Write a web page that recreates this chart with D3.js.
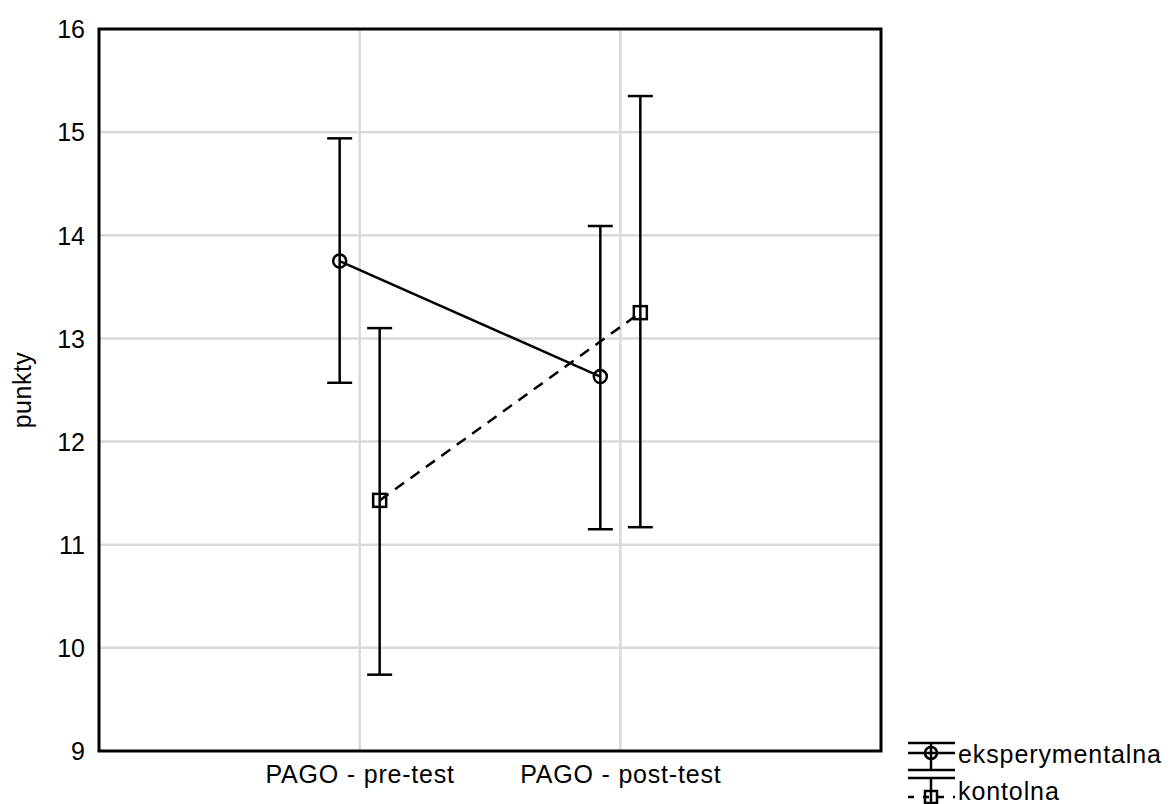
<!DOCTYPE html>
<html>
<head>
<meta charset="utf-8">
<script src="https://cdn.jsdelivr.net/npm/d3@7"></script>
<style>
  body { margin: 0; background: #fff; }
  text { font-family: "Liberation Sans", Arial, sans-serif; fill: #000; }
</style>
</head>
<body>
<svg id="chart" width="1173" height="804"></svg>
<script>
var categories = ["PAGO - pre-test", "PAGO - post-test"]
var seriesNames = ["eksperymentalna", "kontolna"]
// mean, lower, upper per category
var expMean = [13.75, 12.63]
var expLow = [12.57, 11.15]
var expHigh = [14.94, 14.09]
var konMean = [11.43, 13.25]
var konLow = [9.74, 11.17]
var konHigh = [13.10, 15.35]
var yTicks = [9, 10, 11, 12, 13, 14, 15, 16]

var dimensions = {
    width: 1173,
    height: 804,
    margin: { top: 29, bottom: 53, left: 99, right: 292 }
}

var svg = d3.select("#chart")

var xScale = d3.scalePoint()
    .domain(categories)
    .range([dimensions.margin.left, dimensions.width - dimensions.margin.right])
    .padding(1)

var yScale = d3.scaleLinear()
    .domain([9, 16])
    .range([dimensions.height - dimensions.margin.bottom, dimensions.margin.top])

var plotLeft = dimensions.margin.left
var plotRight = dimensions.width - dimensions.margin.right
var plotTop = dimensions.margin.top
var plotBottom = dimensions.height - dimensions.margin.bottom

var lw = 2.5

// grid
svg.append("g").selectAll("line.h")
    .data(yTicks.slice(1, -1))
    .enter().append("line")
    .attr("x1", plotLeft).attr("x2", plotRight)
    .attr("y1", d => yScale(d)).attr("y2", d => yScale(d))
    .attr("stroke", "#d9d9d9").attr("stroke-width", 2.5)

svg.append("g").selectAll("line.v")
    .data(categories)
    .enter().append("line")
    .attr("x1", d => xScale(d)).attr("x2", d => xScale(d))
    .attr("y1", plotTop).attr("y2", plotBottom)
    .attr("stroke", "#d9d9d9").attr("stroke-width", 2.5)

// axes (labels only)
var yAxisGen = d3.axisLeft(yScale).tickValues(yTicks).tickFormat(d3.format("d")).tickSize(0).tickPadding(14)
var yAxis = svg.append("g")
    .attr("transform", "translate(" + plotLeft + ",0)")
    .call(yAxisGen)
yAxis.select(".domain").remove()
yAxis.selectAll("text").style("font-size", "25px").attr("dy", "0.35em")

var xAxisGen = d3.axisBottom(xScale).tickSize(0).tickPadding(14)
var xAxis = svg.append("g")
    .attr("transform", "translate(0," + plotBottom + ")")
    .call(xAxisGen)
xAxis.select(".domain").remove()
xAxis.selectAll("text").style("font-size", "25px").style("letter-spacing", "0.8px")

svg.append("text")
    .attr("transform", "translate(31," + ((plotTop + plotBottom) / 2) + ") rotate(-90)")
    .attr("text-anchor", "middle")
    .style("font-size", "25px")
    .style("letter-spacing", "0.5px")
    .text("punkty")

// frame
svg.append("rect")
    .attr("x", plotLeft).attr("y", plotTop)
    .attr("width", plotRight - plotLeft).attr("height", plotBottom - plotTop)
    .attr("fill", "none").attr("stroke", "#000").attr("stroke-width", 3)

var series = [
    { name: seriesNames[0], mean: expMean, low: expLow, high: expHigh, offset: -20, dash: null, shape: "circle" },
    { name: seriesNames[1], mean: konMean, low: konLow, high: konHigh, offset: 20, dash: "11,8", shape: "square" }
]

var capW = 12.5

series.forEach(function (s) {
    var pts = categories.map((c, i) => ({ x: xScale(c) + s.offset, m: s.mean[i], lo: s.low[i], hi: s.high[i] }))
    var g = svg.append("g")

    g.append("path")
        .datum(pts)
        .attr("d", d3.line().x(d => d.x).y(d => yScale(d.m)))
        .attr("fill", "none").attr("stroke", "#000").attr("stroke-width", lw)
        .attr("stroke-dasharray", s.dash)

    g.selectAll("line.bar").data(pts).enter().append("line")
        .attr("x1", d => d.x).attr("x2", d => d.x)
        .attr("y1", d => yScale(d.lo)).attr("y2", d => yScale(d.hi))
        .attr("stroke", "#000").attr("stroke-width", lw)
    g.selectAll("line.caphi").data(pts).enter().append("line")
        .attr("x1", d => d.x - capW).attr("x2", d => d.x + capW)
        .attr("y1", d => yScale(d.hi)).attr("y2", d => yScale(d.hi))
        .attr("stroke", "#000").attr("stroke-width", lw)
    g.selectAll("line.caplo").data(pts).enter().append("line")
        .attr("x1", d => d.x - capW).attr("x2", d => d.x + capW)
        .attr("y1", d => yScale(d.lo)).attr("y2", d => yScale(d.lo))
        .attr("stroke", "#000").attr("stroke-width", lw)

    if (s.shape == "circle") {
        g.selectAll("circle").data(pts).enter().append("circle")
            .attr("cx", d => d.x).attr("cy", d => yScale(d.m)).attr("r", 6.5)
            .attr("fill", "none").attr("stroke", "#000").attr("stroke-width", lw)
    } else {
        g.selectAll("rect").data(pts).enter().append("rect")
            .attr("x", d => d.x - 6.5).attr("y", d => yScale(d.m) - 6.5)
            .attr("width", 13).attr("height", 13)
            .attr("fill", "none").attr("stroke", "#000").attr("stroke-width", lw)
    }
})

// legend
var lx1 = 908, lx2 = 955, lc = 931
var leg = svg.append("g")
// eksperymentalna
leg.append("line").attr("x1", lx1).attr("x2", lx2).attr("y1", 743).attr("y2", 743).attr("stroke", "#000").attr("stroke-width", lw)
leg.append("line").attr("x1", lx1).attr("x2", lx2).attr("y1", 753).attr("y2", 753).attr("stroke", "#000").attr("stroke-width", lw)
leg.append("line").attr("x1", lc).attr("x2", lc).attr("y1", 743).attr("y2", 770).attr("stroke", "#000").attr("stroke-width", lw)
leg.append("line").attr("x1", lx1).attr("x2", lx2).attr("y1", 770).attr("y2", 770).attr("stroke", "#000").attr("stroke-width", lw)
leg.append("circle").attr("cx", lc).attr("cy", 753).attr("r", 6)
    .attr("fill", "none").attr("stroke", "#000").attr("stroke-width", lw)
// kontolna
leg.append("line").attr("x1", lx1).attr("x2", lx2).attr("y1", 778).attr("y2", 778).attr("stroke", "#000").attr("stroke-width", lw)
leg.append("line").attr("x1", lx1).attr("x2", lx2).attr("y1", 797).attr("y2", 797).attr("stroke", "#000").attr("stroke-width", lw).attr("stroke-dasharray", "6,9")
leg.append("line").attr("x1", lc).attr("x2", lc).attr("y1", 778).attr("y2", 810).attr("stroke", "#000").attr("stroke-width", lw)
leg.append("rect").attr("x", lc - 6).attr("y", 791).attr("width", 12).attr("height", 12)
    .attr("fill", "none").attr("stroke", "#000").attr("stroke-width", lw)

leg.append("text").attr("x", 958).attr("y", 763).style("font-size", "25px").style("letter-spacing", "0.9px").text(seriesNames[0])
leg.append("text").attr("x", 958).attr("y", 800).style("font-size", "25px").style("letter-spacing", "0.9px").text(seriesNames[1])
</script>
</body>
</html>
